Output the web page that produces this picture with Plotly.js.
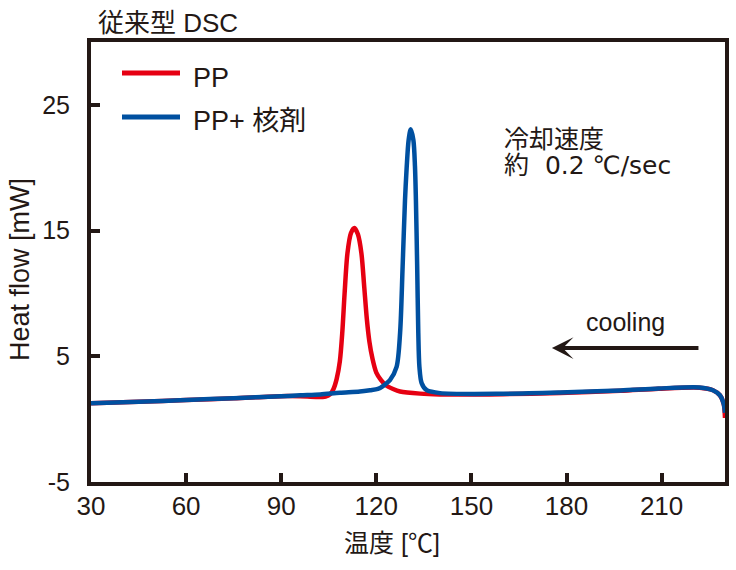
<!DOCTYPE html>
<html>
<head>
<meta charset="utf-8">
<script src="https://cdn.plot.ly/plotly-3.0.1.min.js"></script>
<style>
  body { margin: 0; background: #fff; }
  #dsc { width: 736px; height: 570px; }
</style>
</head>
<body>
<div id="dsc"></div>
<script>
// PP (no nucleating agent), cooling run
var tempPP = [30, 45, 60, 75, 90, 96, 101, 104, 105.5, 106.5, 107.5, 108.5, 109.3, 110, 110.9, 112, 113.1, 114.2, 115.3, 116.2, 117, 117.8, 118.8, 120, 121.5, 123, 125.3, 127.5, 133.8, 140, 160, 178, 197, 209, 222, 226.2, 228.4, 229.6, 230];
var heatPP = [1.27, 1.38, 1.52, 1.66, 1.83, 1.82, 1.76, 1.8, 2.0, 2.4, 3.2, 4.6, 7.0, 10.0, 13.2, 14.8, 15.2, 14.7, 13.2, 10.5, 8.0, 6.2, 4.8, 3.7, 3.1, 2.7, 2.4, 2.2, 2.03, 1.97, 1.99, 2.08, 2.25, 2.42, 2.5, 2.3, 1.9, 1.2, 0.1];

// PP + nucleating agent
var tempNuc = [30, 45, 60, 75, 90, 96, 102.3, 108.5, 114.8, 118, 120.5, 122.1, 124.3, 126.4, 127.5, 128.3, 129.05, 129.6, 130.2, 130.85, 131.7, 132.2, 132.5, 132.9, 133.25, 133.6, 134.3, 135.9, 140.1, 160, 178, 197, 209, 222, 226.2, 228.4, 229.6, 230];
var heatNuc = [1.27, 1.38, 1.52, 1.67, 1.82, 1.9, 1.97, 2.1, 2.2, 2.3, 2.4, 2.63, 3.1, 4.16, 6.85, 12.1, 17.4, 20.1, 22.2, 23.05, 22.2, 20.1, 17.4, 12.1, 6.85, 4.16, 2.87, 2.3, 2.07, 2.02, 2.12, 2.28, 2.44, 2.52, 2.3, 1.9, 1.2, 0.5];

var xTicks = [30, 60, 90, 120, 150, 180, 210];
var yTicks = [-5, 5, 15, 25];

var seriesNames = ["PP", "PP+ 核剤"];
var RED = "#e60012";
var BLUE = "#0050a0";
var INK = "#231815";

var SANS = "Liberation Sans, Arial, Noto Sans CJK JP, sans-serif";
var CJK = "Noto Sans CJK JP, Liberation Sans, sans-serif";
var WIDE = "DejaVu Sans, Noto Sans CJK JP, sans-serif";

// plot box in px, used to place the free-floating labels
var L = 91, R = 725, T = 42, B = 482;
function px(x) { return (x - L) / (R - L); }
function py(y) { return (B - y) / (B - T); }

var data = [
  {
    x: tempPP, y: heatPP, type: "scatter", mode: "lines", name: seriesNames[0],
    line: { color: RED, width: 4.5, shape: "spline", smoothing: 0.8 }
  },
  {
    x: tempNuc, y: heatNuc, type: "scatter", mode: "lines", name: seriesNames[1],
    line: { color: BLUE, width: 4.5, shape: "spline", smoothing: 0.8 }
  }
];

function txt(s, x, y, size, font, anchor) {
  return {
    text: s, xref: "paper", yref: "paper", x: px(x), y: py(y),
    xanchor: anchor || "left", yanchor: "middle", showarrow: false,
    font: { family: font || SANS, size: size, color: INK }
  };
}

var annotations = [
  txt("従来型 DSC", 96, 23, 26),
  txt(seriesNames[0], 191, 78, 27),
  txt(seriesNames[1], 191, 121, 27),
  txt("冷却速度", 502, 137, 25, CJK),
  txt("約&nbsp; 0.2 ℃/sec", 502, 165, 25, WIDE),
  txt("cooling", 625, 322, 25, SANS, "center"),
  txt("温度 [℃]", 392, 543, 25, SANS, "center"),
  // cooling direction arrow
  {
    x: 175.4, y: 5.65, ax: 222.1, ay: 5.65, xref: "x", yref: "y",
    axref: "x", ayref: "y", text: "", showarrow: true,
    arrowhead: 3, arrowsize: 0.9, arrowwidth: 4, arrowcolor: INK
  }
];
var yt = txt("Heat flow [mW]", 20, 270, 27, SANS, "center");
yt.textangle = -90;
annotations.push(yt);

var shapes = [
  { type: "line", xref: "paper", yref: "paper", x0: px(122), x1: px(180), y0: py(73), y1: py(73),
    line: { color: RED, width: 5 } },
  { type: "line", xref: "paper", yref: "paper", x0: px(122), x1: px(180), y0: py(117), y1: py(117),
    line: { color: BLUE, width: 5 } }
];

var layout = {
  width: 736,
  height: 570,
  margin: { l: L, r: 736 - R, t: T, b: 570 - B, pad: 0 },
  paper_bgcolor: "#fff",
  plot_bgcolor: "#fff",
  showlegend: false,
  xaxis: {
    range: [30, 230],
    tickmode: "array", tickvals: xTicks, ticktext: xTicks.map(String),
    ticks: "inside", ticklen: 9, tickwidth: 4, tickcolor: INK,
    showline: true, linewidth: 4, linecolor: INK, mirror: true,
    showgrid: false, zeroline: false,
    ticklabelstandoff: -2,
    tickfont: { family: SANS, size: 26, color: INK }
  },
  yaxis: {
    range: [-5, 30],
    tickmode: "array", tickvals: yTicks, ticktext: yTicks.map(String),
    ticks: "inside", ticklen: 9, tickwidth: 4, tickcolor: INK,
    showline: true, linewidth: 4, linecolor: INK, mirror: true,
    showgrid: false, zeroline: false,
    ticklabelstandoff: 12,
    tickfont: { family: SANS, size: 25, color: INK }
  },
  annotations: annotations,
  shapes: shapes
};

Plotly.newPlot("dsc", data, layout, { displayModeBar: false, staticPlot: true });
</script>
</body>
</html>
